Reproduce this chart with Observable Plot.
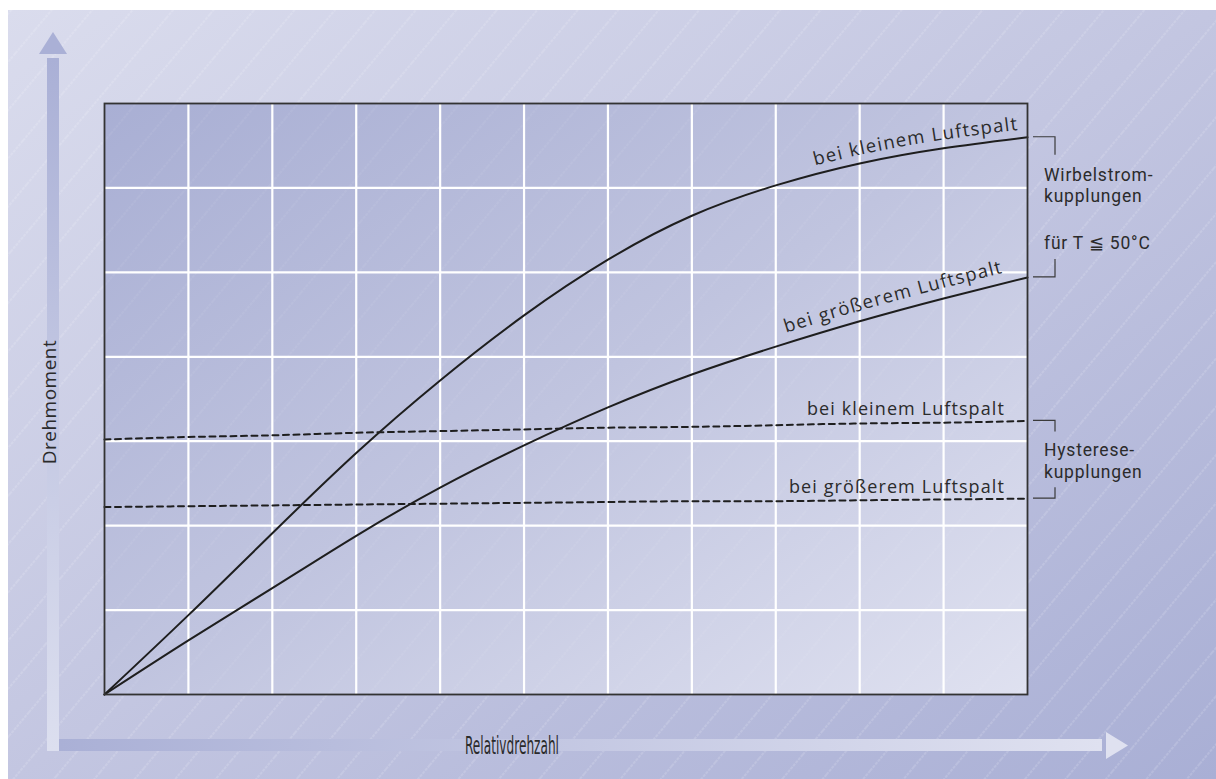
<!DOCTYPE html>
<html><head><meta charset="utf-8">
<script src="https://cdn.jsdelivr.net/npm/d3@7"></script>
<script src="https://cdn.jsdelivr.net/npm/@observablehq/plot@0.6"></script>
<style>html,body{margin:0;padding:0;background:#fff;overflow:hidden}svg{display:block}</style>
</head><body><div id="chart"></div>
<script>
// ---- data (grid units) ----
const drehzahl = [0, 1, 2, 3, 4, 5, 6, 7, 8, 9, 10, 11];
const wirbelKlein = [0, 0.94, 1.91, 2.86, 3.72, 4.49, 5.15, 5.67, 6.03, 6.29, 6.47, 6.60];
const wirbelGross = [0, 0.64, 1.26, 1.88, 2.45, 2.95, 3.40, 3.79, 4.12, 4.42, 4.69, 4.94];
const hystKlein   = [3.02, 3.05, 3.07, 3.10, 3.12, 3.14, 3.16, 3.17, 3.19, 3.21, 3.22, 3.24];
const hystGross   = [2.22, 2.23, 2.24, 2.25, 2.26, 2.27, 2.28, 2.29, 2.29, 2.30, 2.31, 2.32];
const xTicks = [1, 2, 3, 4, 5, 6, 7, 8, 9, 10];
const yTicks = [1, 2, 3, 4, 5, 6];
const xTitle = "Relativdrehzahl";
const yTitle = "Drehmoment";
const lblKlein = "bei kleinem Luftspalt";
const lblGross = "bei größerem Luftspalt";
const wirbelText = ["Wirbelstrom-", "kupplungen"];
const wirbelTemp = "für T ≦ 50°C";
const hystText = ["Hysterese-", "kupplungen"];

const seriesList = [
  {key: "wk", values: wirbelKlein, dashed: false},
  {key: "wg", values: wirbelGross, dashed: false},
  {key: "hk", values: hystKlein, dashed: true},
  {key: "hg", values: hystGross, dashed: true}
];
const rows = seriesList.flatMap(s => drehzahl.map((x, i) => ({key: s.key, dashed: s.dashed, x, y: s.values[i]})));

const FONT = "'Open Sans', sans-serif";
const INK = "#2b2b2b";

const chart = Plot.plot({
  width: 1216, height: 779,
  marginLeft: 104, marginRight: 189, marginTop: 103, marginBottom: 85,
  x: {domain: [0, 11], axis: null},
  y: {domain: [0, 7], axis: null},
  style: {background: "transparent", fontFamily: FONT},
  marks: [
    Plot.frame({fill: "url(#plotGrad)"}),
    Plot.frame({fill: "url(#hatchIn)"}),
    Plot.ruleX(xTicks, {stroke: "#ffffff", strokeWidth: 2.2}),
    Plot.ruleY(yTicks, {stroke: "#ffffff", strokeWidth: 2.2}),
    Plot.line(rows.filter(d => !d.dashed), {x: "x", y: "y", z: "key", curve: "natural", stroke: "#1e1e1e", strokeWidth: 2}),
    Plot.line(rows.filter(d => d.dashed), {x: "x", y: "y", z: "key", curve: "natural", stroke: "#1e1e1e", strokeWidth: 2, strokeDasharray: "6,4.5"}),
    Plot.frame({stroke: "#333333", strokeWidth: 1.8})
  ]
});
document.getElementById("chart").appendChild(chart);

const svg = d3.select(chart);
const sx = chart.scale("x"), sy = chart.scale("y");
const X = v => sx.apply(v), Y = v => sy.apply(v);

// defs
const defs = svg.insert("defs", ":first-child");
const lg = (id, x1, y1, x2, y2, stops) => {
  const g = defs.append("linearGradient").attr("id", id).attr("x1", x1).attr("y1", y1).attr("x2", x2).attr("y2", y2);
  stops.forEach(([o, c]) => g.append("stop").attr("offset", o).attr("stop-color", c));
};
lg("bgGrad", 0, 0, 1, 1, [[0, "#dadced"], [0.5, "#c3c6e1"], [1, "#a9afd5"]]);
lg("plotGrad", 0, 0, 1, 1, [[0, "#a9afd4"], [0.5, "#c0c4df"], [1, "#dfe1f0"]]);
lg("vArrow", 0, 0, 0, 1, [[0, "#aab0d6"], [1, "#dcdfef"]]);
lg("hArrow", 0, 0, 1, 0, [[0, "#aab0d6"], [1, "#dfe1f0"]]);
const hatch = (id, op) => {
  const p = defs.append("pattern").attr("id", id).attr("patternUnits", "userSpaceOnUse")
    .attr("width", 31).attr("height", 31).attr("patternTransform", "rotate(40)");
  p.append("line").attr("x1", 15).attr("y1", 0).attr("x2", 15).attr("y2", 31)
    .attr("stroke", "#ffffff").attr("stroke-opacity", op).attr("stroke-width", 0.7).attr("stroke-dasharray", "3 1");
};
hatch("hatch", 0.4);
hatch("hatchIn", 0.16);

// background & arrows (inserted beneath the plot)
const bg = svg.insert("g", "defs + *");
bg.append("rect").attr("x", 8).attr("y", 10).attr("width", 1208).attr("height", 769).attr("fill", "url(#bgGrad)");
bg.append("rect").attr("x", 8).attr("y", 10).attr("width", 1208).attr("height", 769).attr("fill", "url(#hatch)");
bg.append("rect").attr("x", 47).attr("y", 58).attr("width", 12).attr("height", 693).attr("fill", "url(#vArrow)");
bg.append("path").attr("d", "M39,54 L67,54 L53,32 Z").attr("fill", "#aab0d6");
bg.append("rect").attr("x", 59).attr("y", 739).attr("width", 1043).attr("height", 12).attr("fill", "url(#hArrow)");
bg.append("path").attr("d", "M1106,732 L1106,759 L1128,745.5 Z").attr("fill", "#dfe1f0");

// text layer
const fg = svg.append("g").attr("font-family", FONT).attr("fill", INK).attr("text-anchor", "start");
fg.append("text").attr("transform", "translate(56,402) rotate(-90)").attr("text-anchor", "middle")
  .attr("font-size", 19).attr("letter-spacing", 0.5).text(yTitle);
fg.append("text").attr("x", 465).attr("y", 754).attr("font-size", 24).attr("text-anchor", "start")
  .attr("font-family", "'Liberation Sans Narrow', 'DejaVu Sans Condensed', sans-serif")
  .attr("textLength", 94).attr("lengthAdjust", "spacingAndGlyphs").text(xTitle);

// curve labels following the curves
const lineGen = d3.line().x(d => X(d.x)).y(d => Y(d.y)).curve(d3.curveNatural);
[[wirbelKlein, lblKlein, "lp1", 8, 8], [wirbelGross, lblGross, "lp2", 10, 24]].forEach(([vals, label, id, off, endGap]) => {
  const pts = drehzahl.map((x, i) => ({x, y: vals[i]}));
  const p = defs.append("path").attr("id", id).attr("d", lineGen(pts)).attr("transform", `translate(0,${-off})`);
  const len = p.node().getTotalLength();
  fg.append("text").attr("font-size", 18.5).attr("letter-spacing", 1.3)
    .append("textPath").attr("href", "#" + id).attr("startOffset", len - endGap).attr("text-anchor", "end").text(label);
});

// horizontal labels above dashed lines
const last = drehzahl.length - 1;
[[hystKlein, lblKlein], [hystGross, lblGross]].forEach(([vals, label]) => {
  fg.append("text").attr("x", X(drehzahl[last]) - 22).attr("y", Y(vals[last]) - 5)
    .attr("text-anchor", "end").attr("font-size", 18).attr("letter-spacing", 1.1).text(label);
});

// right-hand group brackets and texts
const xr = X(drehzahl[last]);
const bracket = (yTop, yBot, hTop, hBot) => {
  fg.append("path").attr("fill", "none").attr("stroke", "#3a3a3a").attr("stroke-width", 1.2)
    .attr("d", `M${xr + 6},${yTop} H${xr + 28} V${yTop + hTop} M${xr + 28},${yBot - hBot} V${yBot} H${xr + 6}`);
};
const block = (y, lines, lh) => {
  const t = fg.append("text").attr("x", xr + 17).attr("y", y).attr("font-size", 17.5)
    .attr("font-family", "Roboto, sans-serif")
    .attr("text-anchor", "start").attr("letter-spacing", 0.8);
  lines.forEach((s, i) => t.append("tspan").attr("x", xr + 17).attr("dy", i ? lh : 0).text(s));
};
const yWk = Y(wirbelKlein[last]), yWg = Y(wirbelGross[last]);
bracket(yWk, yWg, 18, 18);
block(yWk + 44, wirbelText, 21);
block(yWk + 112, [wirbelTemp], 0);
const yHk = Y(hystKlein[last]), yHg = Y(hystGross[last]);
bracket(yHk, yHg, 11, 11);
block(yHk + 36, hystText, 22);
</script>
</body></html>
